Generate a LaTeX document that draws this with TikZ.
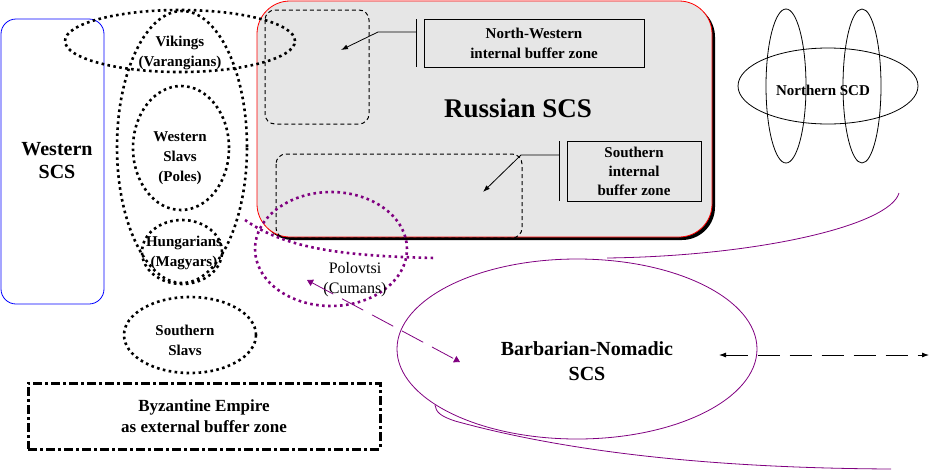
\documentclass[tikz,border=0pt]{standalone}
\usepackage{fontspec}
\setmainfont{Liberation Serif}
\usetikzlibrary{arrows.meta}
\definecolor{rusgray}{RGB}{230,230,230}
\definecolor{nomad}{RGB}{128,0,128}
\tikzset{
  bigdots/.style={line width=2.6pt, dash pattern=on 2.6pt off 3.4pt},
  zone/.style={line width=1pt, dash pattern=on 4pt off 3pt, rounded corners=10pt},
  lbl/.style={font=\fontsize{15pt}{20pt}\selectfont\bfseries, align=center},
  infobox/.style={draw, lbl, inner sep=0pt},
  tip/.style={-{Latex[length=7pt,width=5pt]}},
}
\begin{document}
\begin{tikzpicture}[line width=0.8pt]
    \useasboundingbox (0pt,0pt) rectangle (931pt,-472pt);
    \draw[blue, rounded corners=15pt] (1pt,-19pt) rectangle (104pt,-304pt);
    \node[font=\fontsize{20pt}{23pt}\selectfont\bfseries, align=center] (western) at (57pt,-161pt) {Western\\SCS};
    \fill[rounded corners=33pt] (260pt,-4pt) rectangle (715pt,-240pt);
    \draw[red, fill=rusgray, rounded corners=33pt] (257pt,-1pt) rectangle (712pt,-237pt);
    \draw[zone] (265pt,-10pt) rectangle (369pt,-124pt);
    \draw[zone] (276pt,-154pt) rectangle (522pt,-238pt);
    \node[font=\fontsize{27pt}{30pt}\selectfont\bfseries] (russian) at (518pt,-108pt) {Russian SCS};
    \node[infobox, minimum width=220pt, minimum height=48pt] (nwbox) at (534pt,-43pt) {North-Western\\internal buffer zone};
    \draw (416pt,-19pt) -- (416pt,-67pt);
    \coordinate (nwbar) at (416pt,-32pt);
    \coordinate (nwzone) at (341pt,-50pt);
    \draw[tip] (nwbar) -- (378pt,-32pt) -- (nwzone);
    \node[infobox, minimum width=134pt, minimum height=60pt, font=\fontsize{15pt}{19pt}\selectfont\bfseries] (southbox) at (634pt,-171pt) {Southern\\internal\\buffer zone};
    \draw (559pt,-141pt) -- (559pt,-201pt);
    \coordinate (southbar) at (559pt,-155pt);
    \coordinate (southzone) at (483pt,-192pt);
    \draw[tip] (southbar) -- (521pt,-155pt) -- (southzone);
    \draw[bigdots] (182pt,-147pt) ellipse (65pt and 136pt);
    \draw[bigdots] (180pt,-41pt) ellipse (115pt and 31pt);
    \draw[bigdots] (181pt,-148pt) ellipse (48pt and 62pt);
    \draw[bigdots] (182pt,-252pt) ellipse (40pt and 32pt);
    \draw[bigdots] (190pt,-335pt) ellipse (66pt and 38pt);
    \node[lbl] (vikings) at (180pt,-53pt) {Vikings\\(Varangians)};
    \node[lbl] (westslavs) at (180pt,-158pt) {Western\\Slavs\\(Poles)};
    \node[lbl] (hungarians) at (184pt,-253pt) {Hungarians\\(Magyars)};
    \node[lbl] (southslavs) at (185pt,-340pt) {Southern\\Slavs};
    \node[draw, line width=3pt, dash pattern=on 9pt off 3pt on 3pt off 3pt, minimum width=352pt, minimum height=66pt, font=\fontsize{17pt}{21pt}\selectfont\bfseries, align=center] (byzantine) at (204pt,-416pt) {Byzantine Empire\\as external buffer zone};
    \draw[bigdots, nomad] (331pt,-249pt) ellipse (76pt and 57pt);
    \draw[bigdots, nomad] (245pt,-220pt) .. controls (285pt,-248pt) and (340pt,-256pt) .. (435pt,-258pt);
    \node[font=\fontsize{16pt}{20pt}\selectfont, align=center] (polovtsi) at (355pt,-280pt) {Polovtsi\\(Cumans)};
    \draw[nomad] (577pt,-349pt) ellipse (180pt and 90pt);
    \draw[nomad] (607pt,-258pt) .. controls (760pt,-256pt) and (890pt,-225pt) .. (899pt,-193pt);
    \draw[nomad] (435pt,-405pt) .. controls (436pt,-412pt) and (440pt,-416pt) .. (455pt,-421pt)
        .. controls (560pt,-450pt) and (700pt,-468pt) .. (891pt,-469pt);
    \node[font=\fontsize{20pt}{25pt}\selectfont\bfseries, align=center] (nomadic) at (587pt,-361pt) {Barbarian-Nomadic\\SCS};
    \coordinate (polovtsiend) at (307pt,-280pt);
    \coordinate (nomadend) at (460pt,-362pt);
    \draw[nomad, dash pattern=on 24pt off 10pt, {Triangle[length=6pt,width=7pt]}-{Triangle[length=6pt,width=7pt]}] (polovtsiend) -- (nomadend);
    \coordinate (eastleft) at (719pt,-355pt);
    \coordinate (eastright) at (929pt,-355pt);
    \draw[dash pattern=on 22pt off 10pt, {Latex[length=7pt,width=5pt]}-{Latex[length=7pt,width=5pt]}] (eastleft) -- (eastright);
    \draw (828pt,-86pt) ellipse (90pt and 38pt);
    \draw (786pt,-86pt) ellipse (20pt and 77pt);
    \draw (862pt,-86pt) ellipse (19pt and 77pt);
    \node[lbl] (northern) at (823pt,-90pt) {Northern SCD};
\end{tikzpicture}
\end{document}
